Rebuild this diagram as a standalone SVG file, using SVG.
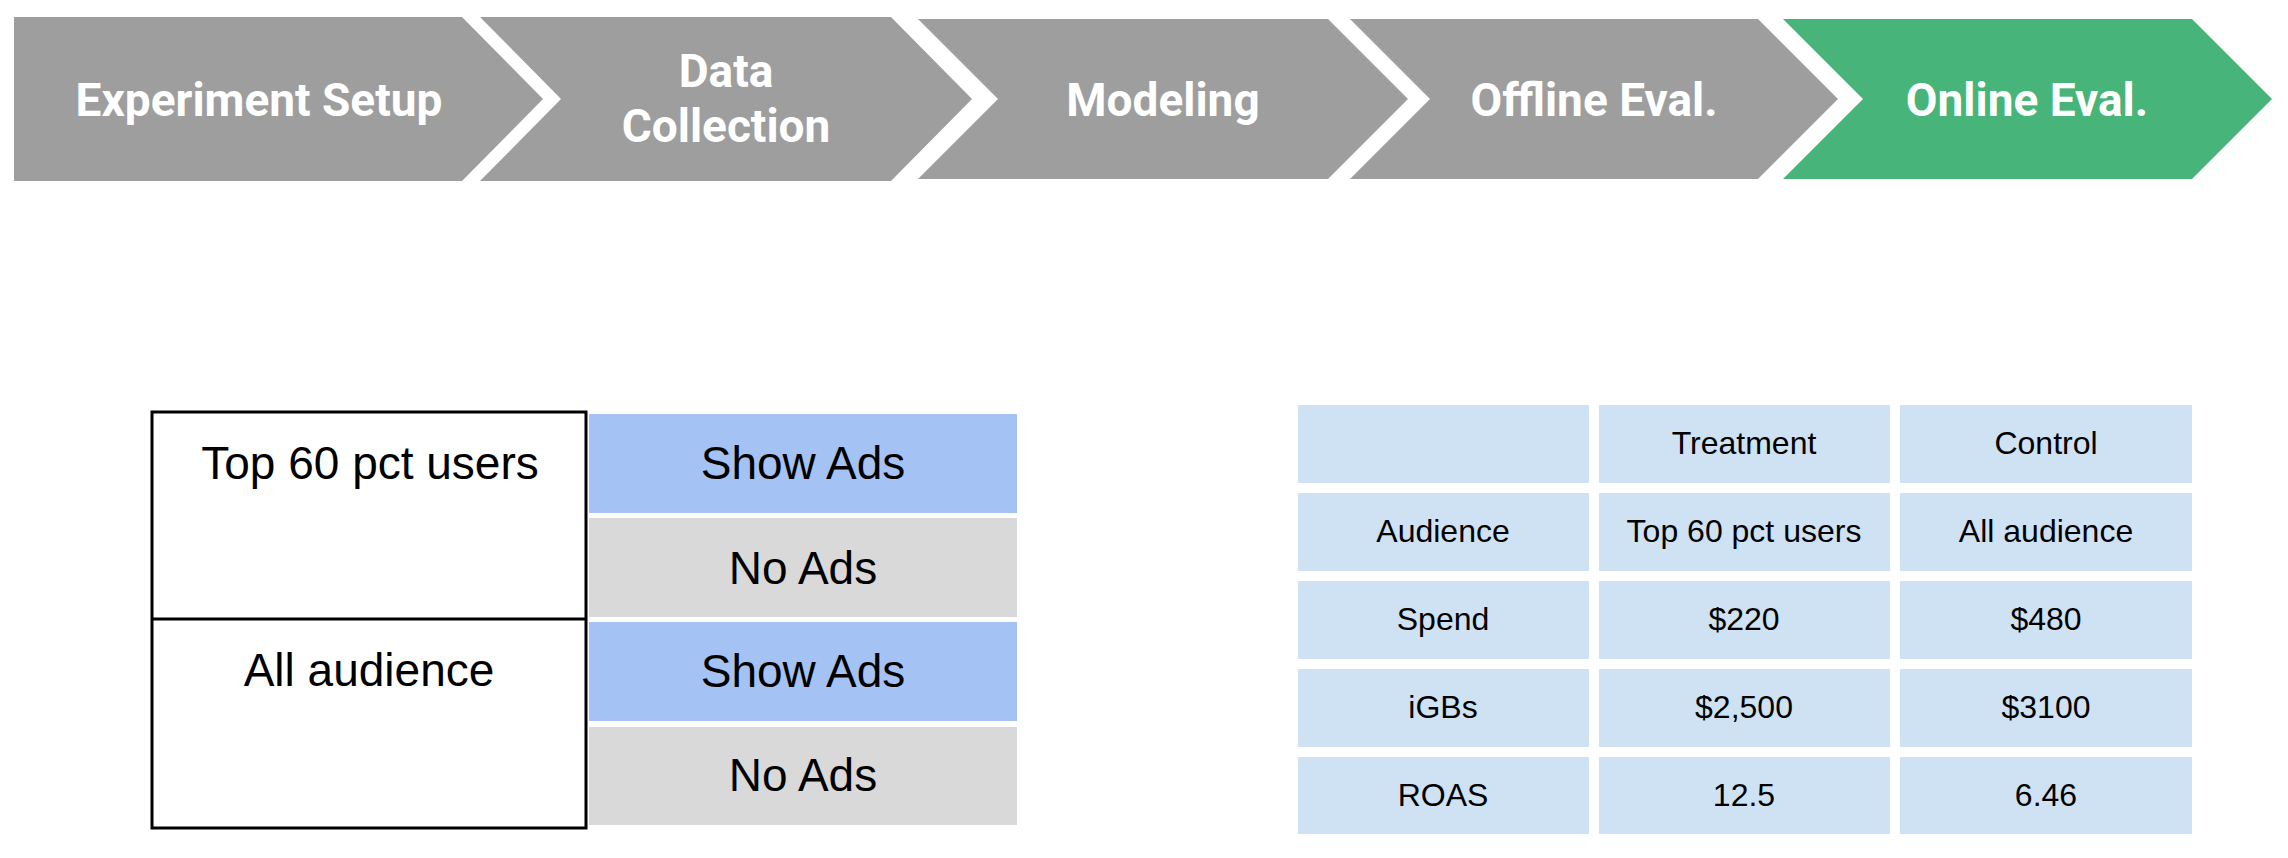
<svg xmlns="http://www.w3.org/2000/svg" width="2288" height="858" viewBox="0 0 2288 858">
<style>
.chev{fill:#9e9e9e}
.green{fill:#47b479}
.ct{font-family:Roboto,"Liberation Sans",sans-serif;font-weight:700;font-size:46px;fill:#ffffff;text-anchor:middle}
.lt{font-family:"Liberation Sans",Arial,sans-serif;font-size:46px;fill:#000000;text-anchor:middle}
.tt{font-family:"Liberation Sans",Arial,sans-serif;font-size:32px;fill:#000000;text-anchor:middle}
.show{fill:#a4c2f4}
.no{fill:#d9d9d9}
.cell{fill:#cfe2f3}
.ln{stroke:#000000;stroke-width:3;fill:none}
</style>
<rect width="2288" height="858" fill="#ffffff"/>
<g id="step-experiment-setup">
<polygon class="chev" points="14,17 462,17 543,99 462,181 14,181"/>
<text class="ct" x="259" y="116">Experiment Setup</text>
</g>
<g id="step-data-collection">
<polygon class="chev" points="480,17 891,17 972,99 891,181 480,181 561,99"/>
<text class="ct" x="726" y="87">Data</text>
<text class="ct" x="726" y="142">Collection</text>
</g>
<g id="step-modeling">
<polygon class="chev" points="918,19 1328,19 1408,99 1328,179 918,179 998,99"/>
<text class="ct" x="1163" y="116">Modeling</text>
</g>
<g id="step-offline-eval">
<polygon class="chev" points="1350,19 1758,19 1838,99 1758,179 1350,179 1430,99"/>
<text class="ct" x="1594" y="116">Offline Eval.</text>
</g>
<g id="step-online-eval">
<polygon class="green" points="1783,19 2192,19 2272,99 2192,179 1783,179 1863,99"/>
<text class="ct" x="2027" y="116">Online Eval.</text>
</g>
<g id="connectors"></g>
<g id="experiment-design">
<rect class="show" x="589" y="414" width="428" height="99"/>
<rect class="no" x="589" y="518" width="428" height="99"/>
<rect class="show" x="589" y="622" width="428" height="99"/>
<rect class="no" x="589" y="727" width="428" height="98"/>
<path class="ln" d="M152,412 H586 V828 H152 Z M152,619 H586"/>
<text class="lt" x="370" y="479">Top 60 pct users</text>
<text class="lt" x="369" y="686">All audience</text>
<text class="lt" x="803" y="479">Show Ads</text>
<text class="lt" x="803" y="584">No Ads</text>
<text class="lt" x="803" y="687">Show Ads</text>
<text class="lt" x="803" y="791">No Ads</text>
</g>
<g id="results-table">
<rect class="cell" x="1298" y="405" width="291" height="78"/>
<rect class="cell" x="1599" y="405" width="291" height="78"/>
<rect class="cell" x="1900" y="405" width="292" height="78"/>
<rect class="cell" x="1298" y="493" width="291" height="78"/>
<rect class="cell" x="1599" y="493" width="291" height="78"/>
<rect class="cell" x="1900" y="493" width="292" height="78"/>
<rect class="cell" x="1298" y="581" width="291" height="78"/>
<rect class="cell" x="1599" y="581" width="291" height="78"/>
<rect class="cell" x="1900" y="581" width="292" height="78"/>
<rect class="cell" x="1298" y="669" width="291" height="78"/>
<rect class="cell" x="1599" y="669" width="291" height="78"/>
<rect class="cell" x="1900" y="669" width="292" height="78"/>
<rect class="cell" x="1298" y="757" width="291" height="77"/>
<rect class="cell" x="1599" y="757" width="291" height="77"/>
<rect class="cell" x="1900" y="757" width="292" height="77"/>
<text class="tt" x="1744" y="454">Treatment</text>
<text class="tt" x="2046" y="454">Control</text>
<text class="tt" x="1443" y="542">Audience</text>
<text class="tt" x="1744" y="542">Top 60 pct users</text>
<text class="tt" x="2046" y="542">All audience</text>
<text class="tt" x="1443" y="630">Spend</text>
<text class="tt" x="1744" y="630">$220</text>
<text class="tt" x="2046" y="630">$480</text>
<text class="tt" x="1443" y="718">iGBs</text>
<text class="tt" x="1744" y="718">$2,500</text>
<text class="tt" x="2046" y="718">$3100</text>
<text class="tt" x="1443" y="806">ROAS</text>
<text class="tt" x="1744" y="806">12.5</text>
<text class="tt" x="2046" y="806">6.46</text>
</g>
</svg>
